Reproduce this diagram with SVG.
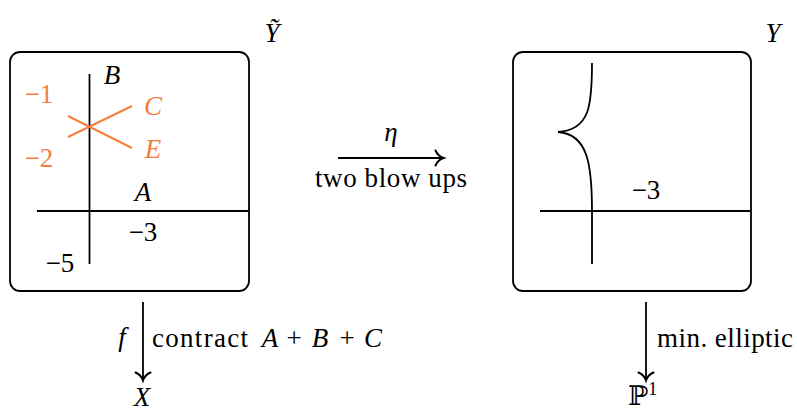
<svg xmlns="http://www.w3.org/2000/svg" width="797" height="414" viewBox="0 0 797 414">
<style>
text{font-family:"Liberation Serif","DejaVu Serif",serif;font-size:27px;fill:#000}
.m{text-anchor:middle}
.it{font-style:italic}
.or{fill:#F47E3A}
.box{fill:none;stroke:#000;stroke-width:1.8}
.ln{fill:none;stroke:#000;stroke-width:1.8}
.ol{fill:none;stroke:#F47E3A;stroke-width:2}
.arr{fill:none;stroke:#000;stroke-width:1.8}
</style>
<defs>
<marker id="ah" markerUnits="userSpaceOnUse" markerWidth="20" markerHeight="20" refX="0" refY="0" viewBox="-10 -10 20 20" orient="auto" overflow="visible">
<path d="M-7.5,-7.5 C-5.5,-3 -2,-0.8 0.5,0 C-2,0.8 -5.5,3 -7.5,7.5" fill="none" stroke="#000" stroke-width="2" stroke-linecap="round"/>
</marker>
</defs>
<g id="Ytilde">
<rect class="box" x="10" y="52" width="239" height="239" rx="10"/>
<line class="ln" x1="89.5" y1="74" x2="89.5" y2="264"/>
<line class="ln" x1="37" y1="211" x2="249" y2="211"/>
<line class="ol" x1="68" y1="116" x2="132" y2="148"/>
<line class="ol" x1="68" y1="137" x2="132" y2="106"/>
<text class="it m" x="112" y="84">B</text>
<text class="or m" x="39" y="103">−1</text>
<text class="or m" x="39" y="167">−2</text>
<text class="it or m" x="153" y="115">C</text>
<text class="it or m" x="153" y="158">E</text>
<text class="it m" x="143" y="201">A</text>
<text class="m" x="143" y="241">−3</text>
<text class="m" x="60" y="272">−5</text>
<text class="it m" x="272" y="42">Ỹ</text>
</g>
<g id="Y">
<rect class="box" x="513" y="52" width="238" height="239" rx="10"/>
<line class="ln" x1="540" y1="211" x2="751" y2="211"/>
<path class="ln" d="M592,63 C592,105 590,130 558,132 C588,134 592,165 592,211 L592,264"/>
<text class="m" x="646" y="199">−3</text>
<text class="it m" x="773" y="42">Y</text>
</g>
<g id="X"><text class="it m" x="142" y="406">X</text></g>
<g id="P1"><text x="628" y="405">ℙ<tspan font-size="18" dy="-10">1</tspan></text></g>
<g id="connectors">
<line class="arr" x1="338" y1="158" x2="443" y2="158" marker-end="url(#ah)"/>
<line class="arr" x1="143" y1="302" x2="143" y2="380" marker-end="url(#ah)"/>
<line class="arr" x1="646" y1="302" x2="646" y2="380" marker-end="url(#ah)"/>
<text class="it m" x="391" y="141">η</text>
<text x="315" y="187" textLength="152" lengthAdjust="spacing">two blow ups</text>
<text class="it m" x="122" y="346">f</text>
<text x="152" y="347" textLength="96" lengthAdjust="spacing">contract</text>
<text class="it m" x="270" y="347">A</text>
<text class="m" x="294" y="347">+</text>
<text class="it m" x="320" y="347">B</text>
<text class="m" x="347" y="347">+</text>
<text class="it m" x="373" y="347">C</text>
<text x="657" y="347" textLength="136" lengthAdjust="spacing">min. elliptic</text>
</g>
</svg>
